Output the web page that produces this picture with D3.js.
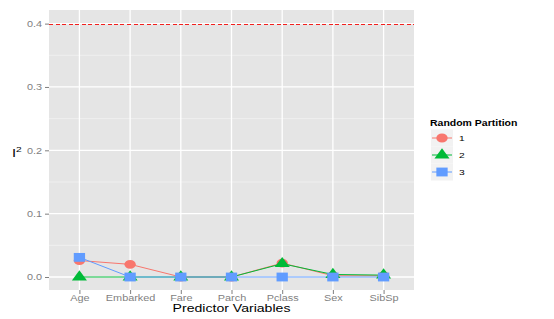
<!DOCTYPE html>
<html>
<head>
<meta charset="utf-8">
<script src="https://cdn.jsdelivr.net/npm/d3@7"></script>
<style>
  body { margin: 0; background: #fff; }
  text { font-family: "Liberation Sans", Arial, sans-serif; }
</style>
</head>
<body>
<svg width="554" height="319"></svg>
<script>
// predictor names along the x axis
const predictors = ['Age', 'Embarked', 'Fare', 'Parch', 'Pclass', 'Sex', 'SibSp'];
// I^2 per random partition
const partition1 = [0.026, 0.020, 0.000, 0.000, 0.022, 0.002, 0.002];
const partition2 = [0.000, 0.000, 0.000, 0.000, 0.021, 0.004, 0.003];
const partition3 = [0.031, 0.000, 0.000, 0.000, 0.000, 0.000, 0.000];
const partitionNames = ['1', '2', '3'];
const yTicks = [0.0, 0.1, 0.2, 0.3, 0.4];
const yMinor = [0.05, 0.15, 0.25, 0.35];
const threshold = 0.4;

const colors = ['#F8766D', '#00BA38', '#619CFF'];
const shapes = [d3.symbolCircle, d3.symbolTriangle, d3.symbolSquare];
const symSize = [62, 60, 78];
// the original image is stretched sideways
const sx = 1.28;
const stretch = 'scale(' + sx + ',1)';

const svg = d3.select('svg');
const pLeft = 49, pRight = 414, pTop = 10, pBottom = 290;

const x = d3.scalePoint()
  .domain(predictors)
  .range([pLeft, pRight])
  .padding(0.6);

const y = d3.scaleLinear()
  .domain([-0.0205, 0.4215])
  .range([pBottom, pTop]);

// panel
svg.append('rect')
  .attr('x', pLeft).attr('y', pTop)
  .attr('width', pRight - pLeft).attr('height', pBottom - pTop)
  .attr('fill', '#E5E5E5');

svg.selectAll('.minor')
  .data(yMinor)
  .enter().append('line')
  .attr('x1', pLeft).attr('x2', pRight)
  .attr('y1', d => y(d)).attr('y2', d => y(d))
  .attr('stroke', '#F2F2F2').attr('stroke-width', 0.8);

svg.selectAll('.hmajor')
  .data(yTicks)
  .enter().append('line')
  .attr('x1', pLeft).attr('x2', pRight)
  .attr('y1', d => y(d)).attr('y2', d => y(d))
  .attr('stroke', '#fff').attr('stroke-width', 1.3);

svg.selectAll('.vmajor')
  .data(predictors)
  .enter().append('line')
  .attr('x1', d => x(d)).attr('x2', d => x(d))
  .attr('y1', pTop).attr('y2', pBottom)
  .attr('stroke', '#fff').attr('stroke-width', 1.3);

// axes
const yAxis = svg.append('g')
  .attr('transform', 'translate(' + pLeft + ',0)')
  .call(d3.axisLeft(y).tickValues(yTicks).tickFormat(d3.format('.1f')).tickSize(4).tickPadding(3));
const xAxis = svg.append('g')
  .attr('transform', 'translate(0,' + pBottom + ')')
  .call(d3.axisBottom(x).tickSize(4).tickPadding(1));
[yAxis, xAxis].forEach(function (g) {
  g.select('.domain').remove();
  g.selectAll('line').attr('stroke', '#7f7f7f');
  g.selectAll('text').attr('fill', '#7f7f7f').style('font-size', '8.5px')
    .style('font-family', '"Liberation Sans", Arial, sans-serif')
    .attr('transform', stretch);
});
yAxis.selectAll('text').attr('x', -7 / sx);

// threshold line
const ty = Math.round(y(threshold)) + 0.5;
svg.append('line')
  .attr('x1', pLeft).attr('x2', pRight)
  .attr('y1', ty).attr('y2', ty)
  .attr('stroke', '#F2201E').attr('stroke-width', 1)
  .attr('shape-rendering', 'crispEdges')
  .attr('stroke-dasharray', '4,2.5');

// series
const series = [partition1, partition2, partition3].map(function (vals, i) {
  return { name: partitionNames[i], values: vals.map((v, j) => ({ k: predictors[j], v: v })) };
});

const line = d3.line().x(d => x(d.k)).y(d => y(d.v));

series.forEach(function (s, i) {
  svg.append('path')
    .datum(s.values)
    .attr('d', line)
    .attr('fill', 'none')
    .attr('stroke', colors[i])
    .attr('stroke-width', 1);
});
series.forEach(function (s, i) {
  svg.selectAll('.pt' + i)
    .data(s.values)
    .enter().append('path')
    .attr('transform', d => 'translate(' + x(d.k) + ',' + y(d.v) + ') ' + stretch)
    .attr('d', d3.symbol().type(shapes[i]).size(symSize[i]))
    .attr('fill', colors[i]);
});

// stretched text helper
function label(px, py, str, size, opts) {
  const g = svg.append('g').attr('transform', 'translate(' + px + ',' + py + ') ' + stretch);
  const t = g.append('text').style('font-size', size + 'px').text(str);
  if (opts && opts.anchor) t.attr('text-anchor', opts.anchor);
  if (opts && opts.bold) t.style('font-weight', 'bold');
  return t;
}

// axis titles
label((pLeft + pRight) / 2, 312, 'Predictor Variables', 11, { anchor: 'middle' });
const yt = label(12, 157, 'I', 11.5);
yt.append('tspan').attr('dy', -5).style('font-size', '8px').text('2');

// legend
label(430, 126, 'Random Partition', 8.2, { bold: true });
partitionNames.forEach(function (n, i) {
  const cy = 138 + i * 17;
  svg.append('rect')
    .attr('x', 431).attr('y', cy - 8.5)
    .attr('width', 22).attr('height', 17)
    .attr('fill', '#F2F2F2');
  svg.append('line')
    .attr('x1', 432).attr('x2', 452).attr('y1', cy).attr('y2', cy)
    .attr('stroke', colors[i]).attr('stroke-width', 1);
  svg.append('path')
    .attr('transform', 'translate(442,' + cy + ') ' + stretch)
    .attr('d', d3.symbol().type(shapes[i]).size(symSize[i]))
    .attr('fill', colors[i]);
  label(459, cy + 3, n, 8);
});
</script>
</body>
</html>
